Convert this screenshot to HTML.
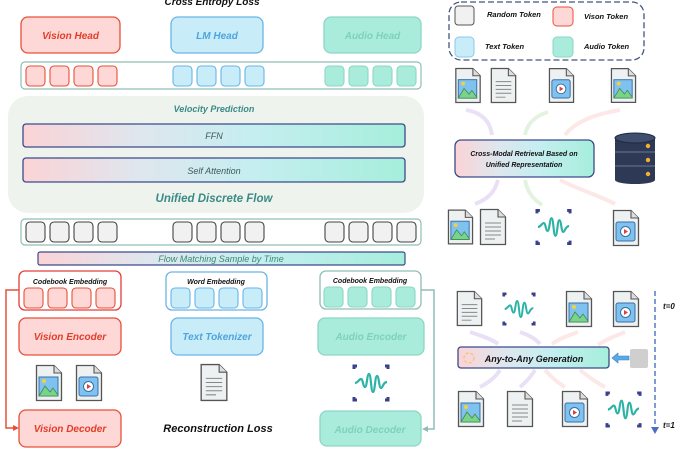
<!DOCTYPE html>
<html><head><meta charset="utf-8"><style>
html,body{margin:0;padding:0;background:#fff;}
svg{display:block;}
text{font-family:"Liberation Sans",sans-serif;font-style:italic;font-weight:bold;}
text.n{font-weight:normal;}
</style></head><body>
<svg width="699" height="454" viewBox="0 0 699 454" xmlns="http://www.w3.org/2000/svg">
<defs>
<linearGradient id="g" x1="0" x2="1" y1="0" y2="0">
<stop offset="0" stop-color="#fbd3d6"/><stop offset="0.3" stop-color="#dfe6ee"/><stop offset="0.6" stop-color="#c5eef0"/><stop offset="1" stop-color="#a6eedc"/></linearGradient>
<symbol id="file" viewBox="0 0 28 38"><path d="M1.5 1.5H19L26.5 9V36.5H1.5Z" fill="#eef1f1" stroke="#555" stroke-width="1.3"/><path d="M19 1.5V9H26.5" fill="#ddd" stroke="#555" stroke-width="1.1"/></symbol>
<symbol id="img" viewBox="0 0 28 38"><use href="#file" width="28" height="38"/><rect x="4" y="13" width="19" height="19" fill="#7fc2ef" stroke="#3a6fa8"/><path d="M4 32L10 22L15 28L18 24L23 31V32Z" fill="#79d38a" stroke="#3f8a4a" stroke-width="0.8"/><circle cx="9" cy="17" r="2" fill="#f5d03b"/></symbol>
<symbol id="vid" viewBox="0 0 28 38"><use href="#file" width="28" height="38"/><rect x="4" y="13" width="19" height="19" rx="2" fill="#7fc2ef" stroke="#3a6fa8"/><circle cx="13.5" cy="22.5" r="5" fill="#fff" stroke="#3a6fa8"/><path d="M12 20L16 22.5L12 25Z" fill="#d9433a"/></symbol>
<symbol id="doc" viewBox="0 0 28 38"><use href="#file" width="28" height="38"/><path d="M6 15H22M6 19H22M6 23H22M6 27H22M6 31H16" stroke="#888" stroke-width="1"/></symbol>
<symbol id="wave" viewBox="0 0 38 38"><path d="M2 5V2H5M33 2H36V5M2 33V36H5M33 36H36V33" stroke="#3c3f8a" stroke-width="3" fill="none"/><path d="M3 19C6 19 7 15 9 15S11 23 13 23S15 10 17 10S19 28 21 28S23 12 25 12S27 24 29 24S31 18 35 18" stroke="#2bb3a6" stroke-width="2.2" fill="none"/></symbol>
</defs>

<text x="212" y="5" font-size="10" text-anchor="middle" fill="#111">Cross Entropy Loss</text>
<rect x="21" y="17" width="99" height="36" rx="7" fill="#fdd8d6" stroke="#e8503a" stroke-width="1.3"/>
<text x="70.5" y="39" font-size="10" text-anchor="middle" fill="#e23d2a">Vision Head</text>
<rect x="171" y="17" width="92" height="36" rx="7" fill="#c9edf8" stroke="#6ab5e6" stroke-width="1.3"/>
<text x="217" y="39" font-size="10" text-anchor="middle" fill="#4ea4de">LM Head</text>
<rect x="324" y="17" width="97" height="36" rx="7" fill="#a9ecdc" stroke="#8dd6c3" stroke-width="1.3"/>
<text x="372.5" y="39" font-size="10" text-anchor="middle" fill="#7fd0bd">Audio Head</text>

<rect x="21" y="62" width="400" height="27" rx="4" fill="#fff" stroke="#8fbdb5" stroke-width="1.2"/>
<g stroke-width="1.1">
<rect x="26" y="66" width="19" height="20" rx="4" fill="#fdd8d6" stroke="#e8503a"/><rect x="50" y="66" width="19" height="20" rx="4" fill="#fdd8d6" stroke="#e8503a"/><rect x="74" y="66" width="19" height="20" rx="4" fill="#fdd8d6" stroke="#e8503a"/><rect x="98" y="66" width="19" height="20" rx="4" fill="#fdd8d6" stroke="#e8503a"/>
<rect x="173" y="66" width="19" height="20" rx="4" fill="#c9edf8" stroke="#6ab5e6"/><rect x="197" y="66" width="19" height="20" rx="4" fill="#c9edf8" stroke="#6ab5e6"/><rect x="221" y="66" width="19" height="20" rx="4" fill="#c9edf8" stroke="#6ab5e6"/><rect x="245" y="66" width="19" height="20" rx="4" fill="#c9edf8" stroke="#6ab5e6"/>
<rect x="325" y="66" width="19" height="20" rx="4" fill="#a9ecdc" stroke="#8dd6c3"/><rect x="349" y="66" width="19" height="20" rx="4" fill="#a9ecdc" stroke="#8dd6c3"/><rect x="373" y="66" width="19" height="20" rx="4" fill="#a9ecdc" stroke="#8dd6c3"/><rect x="397" y="66" width="19" height="20" rx="4" fill="#a9ecdc" stroke="#8dd6c3"/>
</g>

<rect x="8" y="96" width="416" height="117" rx="20" fill="#eef3ee"/>
<text x="214" y="112" font-size="9" text-anchor="middle" fill="#3b8a86">Velocity Prediction</text>
<rect x="23" y="124" width="382" height="23" rx="3" fill="url(#g)" stroke="#3b4b8a" stroke-width="1.3"/>
<text class="n" x="214" y="139" font-size="9" text-anchor="middle" fill="#3e5a5a">FFN</text>
<rect x="23" y="158" width="382" height="24" rx="3" fill="url(#g)" stroke="#3b4b8a" stroke-width="1.3"/>
<text class="n" x="214" y="174" font-size="9" text-anchor="middle" fill="#3e5a5a">Self Attention</text>
<text x="214" y="202" font-size="11.5" text-anchor="middle" fill="#3b8a86">Unified Discrete Flow</text>

<rect x="21" y="219" width="400" height="26" rx="4" fill="#fff" stroke="#8fbdb5" stroke-width="1.2"/>
<g fill="#f1f1f1" stroke="#444" stroke-width="1.1">
<rect x="26" y="222" width="19" height="20" rx="4"/><rect x="50" y="222" width="19" height="20" rx="4"/><rect x="74" y="222" width="19" height="20" rx="4"/><rect x="98" y="222" width="19" height="20" rx="4"/>
<rect x="173" y="222" width="19" height="20" rx="4"/><rect x="197" y="222" width="19" height="20" rx="4"/><rect x="221" y="222" width="19" height="20" rx="4"/><rect x="245" y="222" width="19" height="20" rx="4"/>
<rect x="325" y="222" width="19" height="20" rx="4"/><rect x="349" y="222" width="19" height="20" rx="4"/><rect x="373" y="222" width="19" height="20" rx="4"/><rect x="397" y="222" width="19" height="20" rx="4"/>
</g>
<rect x="38" y="252" width="367" height="13" rx="2" fill="url(#g)" stroke="#3b4b8a" stroke-width="1.2"/>
<text class="n" x="221" y="262" font-size="9" text-anchor="middle" fill="#3b8a70">Flow Matching Sample by Time</text>

<rect x="19" y="271" width="102" height="39" rx="6" fill="#fff" stroke="#e23d3a" stroke-width="1.3"/>
<text x="70" y="284" font-size="7" text-anchor="middle" fill="#111">Codebook Embedding</text>
<rect x="166" y="272" width="101" height="38" rx="6" fill="#fff" stroke="#6ab5e6" stroke-width="1.3"/>
<text x="216" y="284" font-size="7" text-anchor="middle" fill="#111">Word Embedding</text>
<rect x="320" y="271" width="101" height="38" rx="6" fill="#fff" stroke="#8fbdb5" stroke-width="1.3"/>
<text x="370" y="283" font-size="7" text-anchor="middle" fill="#111">Codebook Embedding</text>
<g stroke-width="1.1">
<rect x="24" y="288" width="19" height="20" rx="4" fill="#fdd8d6" stroke="#e8503a"/><rect x="48" y="288" width="19" height="20" rx="4" fill="#fdd8d6" stroke="#e8503a"/><rect x="72" y="288" width="19" height="20" rx="4" fill="#fdd8d6" stroke="#e8503a"/><rect x="96" y="288" width="19" height="20" rx="4" fill="#fdd8d6" stroke="#e8503a"/>
<rect x="171" y="288" width="19" height="20" rx="4" fill="#c9edf8" stroke="#6ab5e6"/><rect x="195" y="288" width="19" height="20" rx="4" fill="#c9edf8" stroke="#6ab5e6"/><rect x="219" y="288" width="19" height="20" rx="4" fill="#c9edf8" stroke="#6ab5e6"/><rect x="243" y="288" width="19" height="20" rx="4" fill="#c9edf8" stroke="#6ab5e6"/>
<rect x="324" y="287" width="19" height="20" rx="4" fill="#a9ecdc" stroke="#8dd6c3"/><rect x="348" y="287" width="19" height="20" rx="4" fill="#a9ecdc" stroke="#8dd6c3"/><rect x="372" y="287" width="19" height="20" rx="4" fill="#a9ecdc" stroke="#8dd6c3"/><rect x="396" y="287" width="19" height="20" rx="4" fill="#a9ecdc" stroke="#8dd6c3"/>
</g>

<rect x="19" y="318" width="102" height="37" rx="7" fill="#fdd8d6" stroke="#e8503a" stroke-width="1.3"/>
<text x="70" y="340" font-size="10" text-anchor="middle" fill="#e23d2a">Vision Encoder</text>
<rect x="171" y="318" width="92" height="37" rx="7" fill="#c9edf8" stroke="#6ab5e6" stroke-width="1.3"/>
<text x="217" y="340" font-size="10" text-anchor="middle" fill="#4ea4de">Text Tokenizer</text>
<rect x="318" y="318" width="106" height="37" rx="7" fill="#a9ecdc" stroke="#8dd6c3" stroke-width="1.3"/>
<text x="371" y="340" font-size="10" text-anchor="middle" fill="#7fd0bd">Audio Encoder</text>

<use href="#img" x="35" y="364" width="28" height="38"/>
<use href="#vid" x="75" y="364" width="28" height="38"/>
<use href="#doc" x="199" y="363" width="30" height="39"/>
<use href="#wave" x="352" y="364" width="38" height="38"/>

<rect x="19" y="410" width="102" height="37" rx="7" fill="#fdd8d6" stroke="#e8503a" stroke-width="1.3"/>
<text x="70" y="432" font-size="10" text-anchor="middle" fill="#e23d2a">Vision Decoder</text>
<text x="218" y="432" font-size="11" text-anchor="middle" fill="#111">Reconstruction Loss</text>
<rect x="320" y="411" width="101" height="35" rx="7" fill="#a9ecdc" stroke="#8dd6c3" stroke-width="1.3"/>
<text x="370" y="433" font-size="10" text-anchor="middle" fill="#7fd0bd">Audio Decoder</text>

<path d="M19 290H6V428H15" fill="none" stroke="#e8503a" stroke-width="1.5"/>
<path d="M19 428L13 425V431Z" fill="#e8503a"/>
<path d="M421 290H434V429H426" fill="none" stroke="#8fbdb5" stroke-width="1.5"/>
<path d="M422 429L428 426V432Z" fill="#8fbdb5"/>

<rect x="449" y="2" width="195" height="58" rx="12" fill="#fff" stroke="#44557f" stroke-width="1.3" stroke-dasharray="6 3"/>
<rect x="455" y="6" width="19" height="19" rx="3" fill="#f1f1f1" stroke="#555"/>
<text x="487" y="17" font-size="7.5" fill="#111">Random Token</text>
<rect x="553" y="7" width="20" height="19" rx="4" fill="#fdd8d6" stroke="#e8503a"/>
<text x="584" y="19" font-size="7.5" fill="#111">Vison Token</text>
<rect x="455" y="37" width="19" height="20" rx="4" fill="#c9edf8" stroke="#8cc8ec"/>
<text x="485" y="49" font-size="7.5" fill="#111">Text Token</text>
<rect x="553" y="37" width="20" height="20" rx="4" fill="#a9ecdc" stroke="#8dd6c3"/>
<text x="584" y="49" font-size="7.5" fill="#111">Audio Token</text>

<use href="#img" x="454" y="67" width="28" height="37"/>
<use href="#doc" x="489" y="67" width="29" height="37"/>
<use href="#vid" x="548" y="67" width="27" height="37"/>
<use href="#img" x="610" y="67" width="27" height="37"/>
<g fill="none" stroke-width="4" opacity="0.55">
<path d="M466 110C480 112 490 120 492 135" stroke="#d9c8f0"/>
<path d="M548 112C535 116 527 124 525 135" stroke="#cfe8c8"/>
<path d="M620 110C595 114 575 122 565 135" stroke="#fbd6d3"/>
<path d="M498 180C494 195 485 200 475 204" stroke="#d9c8f0"/>
<path d="M525 180C528 195 535 200 542 205" stroke="#cfe8c8"/>
<path d="M560 180C580 190 600 196 615 204" stroke="#fbd6d3"/>
<path d="M470 332C478 335 490 338 498 344" stroke="#d9c8f0"/>
<path d="M520 332C528 335 535 338 540 344" stroke="#d9c8f0"/>
<path d="M578 332C570 335 560 338 552 344" stroke="#fbd6d3"/>
<path d="M625 332C615 336 605 340 598 345" stroke="#fbd6d3"/>
<path d="M500 370C495 378 488 383 480 387" stroke="#d9c8f0"/>
<path d="M535 370C530 378 525 383 520 387" stroke="#d9c8f0"/>
<path d="M545 370C552 378 558 383 565 387" stroke="#fbd6d3"/>
<path d="M580 370C590 378 597 383 605 387" stroke="#fbd6d3"/>
</g>
<rect x="455" y="140" width="139" height="37" rx="6" fill="url(#g)" stroke="#3b4b8a" stroke-width="1.3"/>
<text x="524" y="156" font-size="7" text-anchor="middle" fill="#111">Cross-Modal Retrieval Based on</text>
<text x="524" y="167" font-size="7" text-anchor="middle" fill="#111">Unified Representation</text>
<g>
<rect x="615" y="138" width="40" height="42" fill="#2e3a55"/>
<ellipse cx="635" cy="180" rx="20" ry="4" fill="#2e3a55"/>
<ellipse cx="635" cy="138" rx="20" ry="5" fill="#3f4d6e" stroke="#1f2a40"/>
<path d="M615 152H655M615 166H655" stroke="#6b7898" stroke-width="1"/>
<circle cx="648" cy="146" r="2.2" fill="#f2b233"/><circle cx="648" cy="160" r="2.2" fill="#f2b233"/><circle cx="648" cy="174" r="2.2" fill="#f2b233"/>
</g>
<use href="#img" x="447" y="207" width="27" height="40"/>
<use href="#doc" x="479" y="207" width="28" height="40"/>
<use href="#wave" x="535" y="208" width="37" height="38"/>
<use href="#vid" x="612" y="209" width="28" height="38"/>

<use href="#doc" x="455" y="290" width="29" height="37"/>
<use href="#wave" x="500" y="292" width="38" height="34"/>
<use href="#img" x="565" y="290" width="28" height="38"/>
<use href="#vid" x="612" y="290" width="28" height="38"/>
<path d="M655 291V427" stroke="#4a6fc0" stroke-width="1.4" stroke-dasharray="5 3"/>
<path d="M651 427H659L655 434Z" fill="#4a6fc0"/>
<text x="663" y="309" font-size="8" fill="#111">t=0</text>
<text x="663" y="428" font-size="8" fill="#111">t=1</text>
<rect x="458" y="347" width="151" height="21" rx="3" fill="url(#g)" stroke="#3b4b8a" stroke-width="1.3"/>
<circle cx="469" cy="358" r="5" fill="none" stroke="#f5c26a" stroke-width="1.2" stroke-dasharray="3 2"/>
<text x="534" y="362" font-size="9" text-anchor="middle" fill="#111">Any-to-Any Generation</text>
<path d="M612 358L618 353V356H629V360H618V363Z" fill="#5aaae6" stroke="#3a7fc0" stroke-width="0.6"/>
<rect x="630" y="349" width="18" height="19" rx="2" fill="#cfcfcf"/>
<use href="#img" x="457" y="390" width="28" height="38"/>
<use href="#doc" x="505" y="390" width="30" height="38"/>
<use href="#vid" x="560" y="390" width="30" height="38"/>
<use href="#wave" x="605" y="391" width="37" height="37"/>
</svg>
</body></html>
